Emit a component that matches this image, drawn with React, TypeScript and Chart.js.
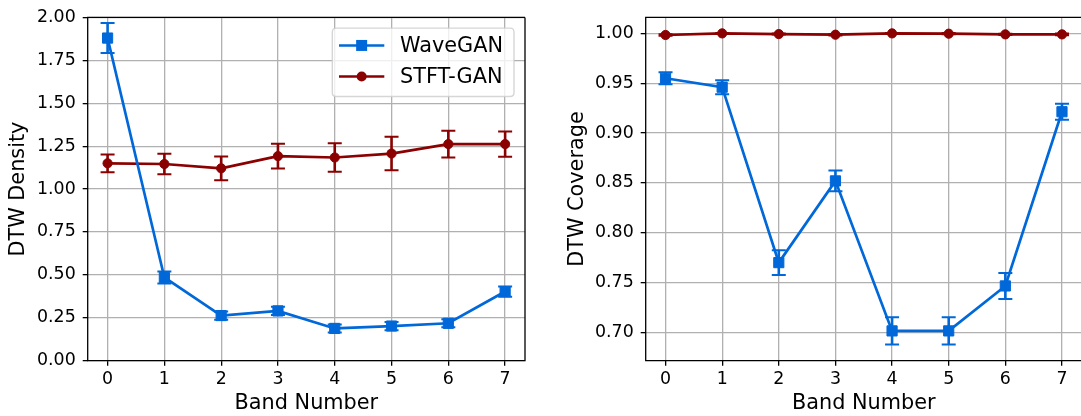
import React, { useEffect, useRef } from 'react';
import { Chart, registerables } from 'chart.js';

Chart.register(...registerables);

// ---------- data ----------
const BANDS = [0, 1, 2, 3, 4, 5, 6, 7];
const SERIES_NAMES = ['WaveGAN', 'STFT-GAN'];

const DENSITY_WAVEGAN = [1.88, 0.485, 0.263, 0.29, 0.188, 0.202, 0.218, 0.403];
const DENSITY_WAVEGAN_ERR = [0.087, 0.035, 0.024, 0.024, 0.023, 0.024, 0.023, 0.03];
const DENSITY_STFT = [1.15, 1.146, 1.121, 1.192, 1.184, 1.207, 1.262, 1.262];
const DENSITY_STFT_ERR = [0.052, 0.06, 0.069, 0.072, 0.083, 0.098, 0.078, 0.073];

const COVERAGE_WAVEGAN = [0.955, 0.946, 0.77, 0.852, 0.7015, 0.7015, 0.7466, 0.9214];
const COVERAGE_WAVEGAN_ERR = [0.006, 0.007, 0.0125, 0.0105, 0.0137, 0.0137, 0.013, 0.008];
const COVERAGE_STFT = [0.9984, 1.0, 0.9993, 0.9987, 1.0, 0.9997, 0.999, 0.999];
const COVERAGE_STFT_ERR = [0.0008, 0.0005, 0.0005, 0.0008, 0.0005, 0.0006, 0.0006, 0.0008];

const X_TICKS = [0, 1, 2, 3, 4, 5, 6, 7];
const DENSITY_TICKS = [0, 0.25, 0.5, 0.75, 1.0, 1.25, 1.5, 1.75, 2.0];
const COVERAGE_TICKS = [0.7, 0.75, 0.8, 0.85, 0.9, 0.95, 1.0];

// ---------- styles ----------
const BLUE = '#0068d9';
const RED = '#8b0000';
const FONT_FAMILY = '"DejaVu Sans", "Liberation Sans", sans-serif';
const TICK_FONT = { family: FONT_FAMILY, size: 17.4, lineHeight: 1.2 };
const LABEL_FONT = { family: FONT_FAMILY, size: 20.8, lineHeight: 1.15 };

// ---------- plugins ----------
const errorBarPlugin = {
  id: 'errorBars',
  afterDatasetDraw(chart: any, args: any) {
    const ds: any = chart.data.datasets[args.index];
    const errs: number[] = ds.errors;
    if (!errs) return;
    const xs = chart.scales.x;
    const ys = chart.scales.y;
    const ctx = chart.ctx;
    ctx.save();
    ctx.strokeStyle = ds.borderColor;
    ds.data.forEach((p: any, i: number) => {
      const px = xs.getPixelForValue(p.x);
      const top = ys.getPixelForValue(p.y + errs[i]);
      const bot = ys.getPixelForValue(p.y - errs[i]);
      ctx.lineWidth = 2.6;
      ctx.beginPath();
      ctx.moveTo(px, top);
      ctx.lineTo(px, bot);
      ctx.stroke();
      ctx.lineWidth = 2;
      ctx.beginPath();
      ctx.moveTo(px - 7, top);
      ctx.lineTo(px + 7, top);
      ctx.moveTo(px - 7, bot);
      ctx.lineTo(px + 7, bot);
      ctx.stroke();
    });
    ctx.restore();
  },
};

const framePlugin = {
  id: 'frame',
  afterDatasetsDraw(chart: any, _args: any, opts: any) {
    const { ctx, chartArea } = chart;
    const { left, right, top, bottom } = chartArea;
    ctx.save();
    ctx.strokeStyle = '#000';
    ctx.lineWidth = 1.3;
    ctx.beginPath();
    ctx.moveTo(right, top);
    ctx.lineTo(left, top);
    ctx.lineTo(left, bottom);
    ctx.lineTo(right, bottom);
    if (!opts || opts.right !== false) ctx.lineTo(right, top);
    ctx.stroke();
    ctx.restore();
  },
};

function drawMarker(ctx: any, style: string, x: number, y: number, color: string) {
  ctx.fillStyle = color;
  if (style === 'rect') {
    ctx.fillRect(x - 5.5, y - 5.5, 11, 11);
  } else {
    ctx.beginPath();
    ctx.arc(x, y, 5, 0, Math.PI * 2);
    ctx.fill();
  }
}

const mplLegendPlugin = {
  id: 'mplLegend',
  afterDraw(chart: any, _args: any, opts: any) {
    if (!opts || !opts.show) return;
    const { ctx, chartArea } = chart;
    const w = 181.7;
    const h = 68.3;
    const bx = chartArea.right - 11 - w;
    const by = chartArea.top + 10.7;
    ctx.save();
    const r = 4;
    ctx.beginPath();
    ctx.moveTo(bx + r, by);
    ctx.lineTo(bx + w - r, by);
    ctx.quadraticCurveTo(bx + w, by, bx + w, by + r);
    ctx.lineTo(bx + w, by + h - r);
    ctx.quadraticCurveTo(bx + w, by + h, bx + w - r, by + h);
    ctx.lineTo(bx + r, by + h);
    ctx.quadraticCurveTo(bx, by + h, bx, by + h - r);
    ctx.lineTo(bx, by + r);
    ctx.quadraticCurveTo(bx, by, bx + r, by);
    ctx.closePath();
    ctx.fillStyle = 'rgba(255,255,255,0.8)';
    ctx.fill();
    ctx.strokeStyle = 'rgba(204,204,204,0.8)';
    ctx.lineWidth = 1.4;
    ctx.stroke();
    chart.data.datasets.forEach((ds: any, i: number) => {
      const cy = by + 17.3 + i * 31;
      const x0 = bx + 6.7;
      const x1 = bx + 52;
      ctx.strokeStyle = ds.borderColor;
      ctx.lineWidth = 2.6;
      ctx.beginPath();
      ctx.moveTo(x0, cy);
      ctx.lineTo(x1, cy);
      ctx.stroke();
      drawMarker(ctx, ds.pointStyle, (x0 + x1) / 2, cy, ds.borderColor);
      ctx.fillStyle = '#000';
      ctx.font = `${LABEL_FONT.size}px ${FONT_FAMILY}`;
      ctx.textAlign = 'left';
      ctx.textBaseline = 'middle';
      ctx.fillText(ds.label, bx + 67.7, cy + 1);
    });
    ctx.restore();
  },
};

// ---------- config ----------
function gridOpts() {
  return {
    color: '#b0b0b0',
    lineWidth: 1.3,
    tickColor: '#000',
    tickLength: 5,
    tickWidth: 1.3,
  };
}

function makeConfig(p: {
  a: number[]; ea: number[]; b: number[]; eb: number[];
  yMin: number; yMax: number; yTicks: number[]; yTitle: string; yTitlePad: number;
  yWidth: number; padTop: number; padRight: number; legend: boolean; rightSpine: boolean;
}): any {
  return {
    type: 'line',
    data: {
      datasets: [
        {
          label: SERIES_NAMES[0],
          data: BANDS.map((x, i) => ({ x, y: p.a[i] })),
          errors: p.ea,
          borderColor: BLUE,
          backgroundColor: BLUE,
          pointBackgroundColor: BLUE,
          pointBorderColor: BLUE,
          borderWidth: 2.7,
          pointStyle: 'rect',
          pointRadius: 7.2,
          pointBorderWidth: 1,
          tension: 0,
        },
        {
          label: SERIES_NAMES[1],
          data: BANDS.map((x, i) => ({ x, y: p.b[i] })),
          errors: p.eb,
          borderColor: RED,
          backgroundColor: RED,
          pointBackgroundColor: RED,
          pointBorderColor: RED,
          borderWidth: 2.7,
          pointStyle: 'circle',
          pointRadius: 4.6,
          pointBorderWidth: 1,
          tension: 0,
        },
      ],
    },
    options: {
      responsive: false,
      maintainAspectRatio: false,
      animation: false,
      devicePixelRatio: 1,
      layout: { padding: { left: 0, top: p.padTop, right: p.padRight, bottom: 0 } },
      plugins: {
        legend: { display: false },
        tooltip: { enabled: false },
        mplLegend: { show: p.legend },
        frame: { right: p.rightSpine },
      },
      scales: {
        x: {
          type: 'linear',
          min: -0.35,
          max: 7.35,
          afterBuildTicks: (s: any) => { s.ticks = X_TICKS.map((v) => ({ value: v })); },
          afterFit: (s: any) => { s.height = 55.3; },
          ticks: { font: TICK_FONT, color: '#000', padding: 3, autoSkip: false, maxRotation: 0, callback: (v: any) => String(v) },
          grid: gridOpts(),
          border: { display: false },
          title: { display: true, text: 'Band Number', font: LABEL_FONT, color: '#000', padding: 0 },
        },
        y: {
          type: 'linear',
          min: p.yMin,
          max: p.yMax,
          afterBuildTicks: (s: any) => { s.ticks = p.yTicks.map((v) => ({ value: v })); },
          afterFit: (s: any) => { s.width = p.yWidth; },
          ticks: { font: TICK_FONT, color: '#000', padding: 7, autoSkip: false, callback: (v: any) => Number(v).toFixed(2) },
          grid: gridOpts(),
          border: { display: false },
          title: { display: true, text: p.yTitle, font: LABEL_FONT, color: '#000', padding: { top: p.yTitlePad, bottom: 0 } },
        },
      },
    },
    plugins: [errorBarPlugin, framePlugin, mplLegendPlugin],
  };
}

function ChartCanvas(props: { config: any; left: number; width: number }) {
  const ref = useRef<HTMLCanvasElement | null>(null);
  useEffect(() => {
    if (!ref.current) return;
    const chart = new Chart(ref.current, props.config);
    return () => chart.destroy();
  }, []);
  return (
    <canvas
      ref={ref}
      width={props.width}
      height={416}
      style={{ position: 'absolute', left: props.left, top: 0, width: props.width, height: 416, display: 'block' }}
    />
  );
}

export default function App() {
  const left = makeConfig({
    a: DENSITY_WAVEGAN, ea: DENSITY_WAVEGAN_ERR, b: DENSITY_STFT, eb: DENSITY_STFT_ERR,
    yMin: 0, yMax: 2.0, yTicks: DENSITY_TICKS, yTitle: 'DTW Density', yTitlePad: 7,
    yWidth: 87.7, padTop: 15.3, padRight: 15, legend: true, rightSpine: true,
  });
  const right = makeConfig({
    a: COVERAGE_WAVEGAN, ea: COVERAGE_WAVEGAN_ERR, b: COVERAGE_STFT, eb: COVERAGE_STFT_ERR,
    yMin: 0.6716, yMax: 1.016, yTicks: COVERAGE_TICKS, yTitle: 'DTW Coverage', yTitlePad: 6,
    yWidth: 85.7, padTop: 8.7, padRight: 7.8, legend: false, rightSpine: false,
  });
  return (
    <div style={{ position: 'absolute', left: 0, top: 0, width: 1081, height: 416, overflow: 'hidden', background: '#fff' }}>
      <ChartCanvas config={left} left={0} width={540} />
      <ChartCanvas config={right} left={560} width={530} />
    </div>
  );
}
